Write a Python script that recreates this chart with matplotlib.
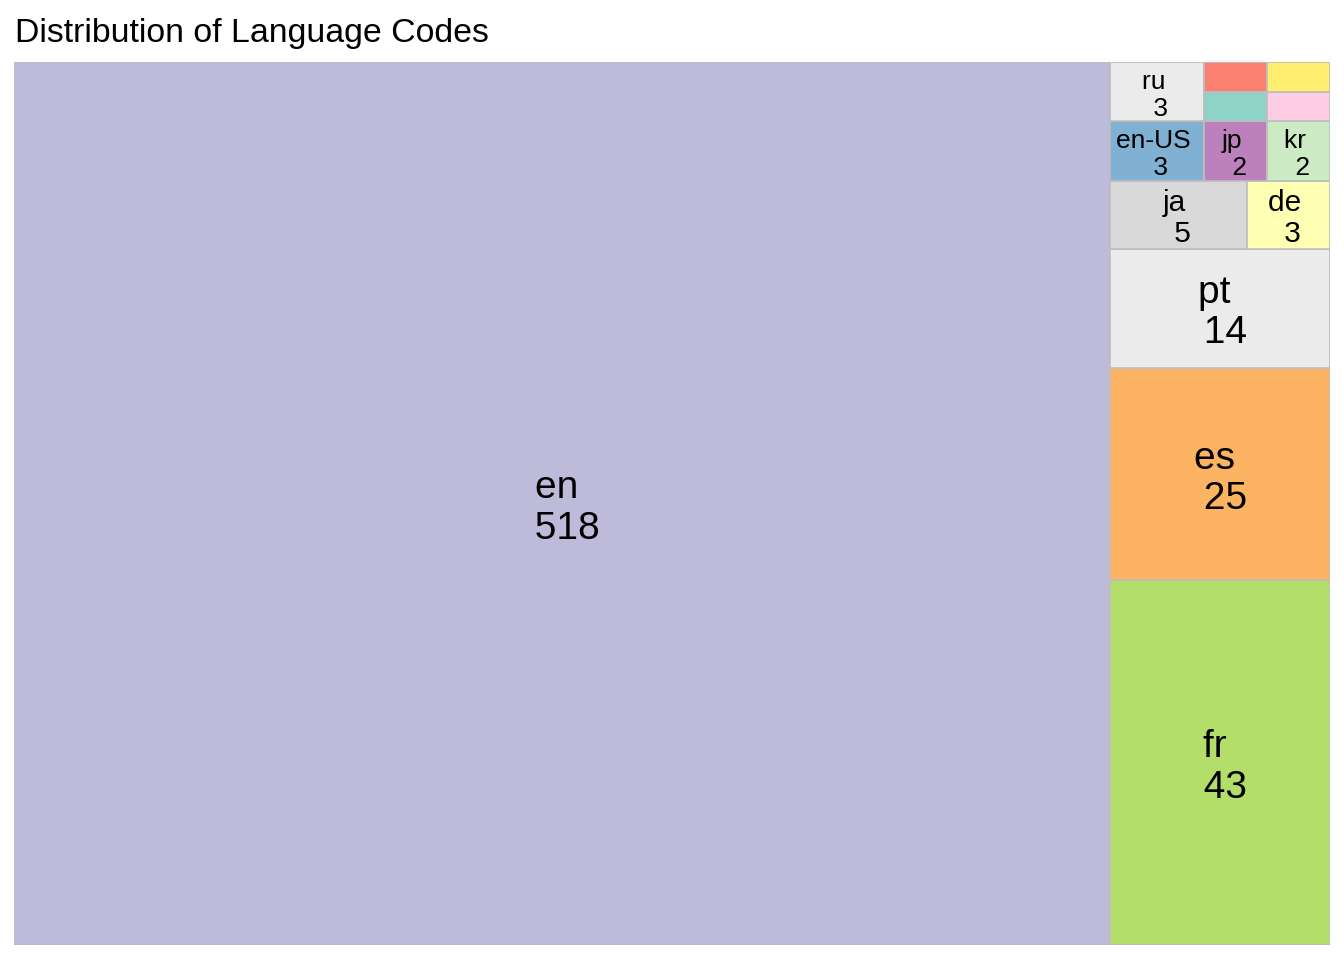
import matplotlib
matplotlib.use("Agg")
import matplotlib.pyplot as plt
from matplotlib.patches import Rectangle
from matplotlib.transforms import offset_copy

# language code counts (alphabetical order, matching fill order)
codes = ["ar", "de", "en", "en-GB", "en-US", "es", "fr", "it",
         "ja", "jp", "kr", "nl", "pt", "ru"]
counts = [1, 3, 518, 1, 3, 25, 43, 1, 5, 2, 2, 1, 14, 3]
# Set3 palette, codes past the 12th get the panel grey
palette = ["#8DD3C7", "#FFFFB3", "#BEBADA", "#FB8072", "#80B1D3", "#FDB462",
           "#B3DE69", "#FCCDE5", "#D9D9D9", "#BC80BD", "#CCEBC5", "#FFED6F"]
title = "Distribution of Language Codes"


def worst(row, side):
    thick = sum(row) / side
    return max(max(thick / (a / thick), (a / thick) / thick) for a in row)


def squarify(areas, x, y, w, h):
    """Squarified layout starting bottom-left, in unit coordinates."""
    rects = []
    i = 0
    while i < len(areas):
        vertical = w >= h           # column on the left spanning height
        side = h if vertical else w
        row = [areas[i]]
        j = i + 1
        while j < len(areas) and worst(row + [areas[j]], side) <= worst(row, side):
            row.append(areas[j])
            j += 1
        thick = sum(row) / side
        pos = y if vertical else x
        for a in row:
            ln = a / thick
            if vertical:
                rects.append((x, pos, thick, ln))
            else:
                rects.append((pos, y, ln, thick))
            pos += ln
        if vertical:
            x += thick
            w -= thick
        else:
            y += thick
            h -= thick
        i = j
    return rects


total = sum(counts)
colors = [palette[k] if k < len(palette) else "#EBEBEB" for k in range(len(codes))]
order = sorted(range(len(codes)), key=lambda k: (-counts[k], codes[k]))
areas = [counts[k] / total for k in order]
rects = squarify(areas, 0.0, 0.0, 1.0, 1.0)

fig = plt.figure(figsize=(13.44, 9.6), dpi=100)
ax = fig.add_axes([14 / 1344, 15 / 960, 1316 / 1344, 883 / 960])
ax.set_xlim(0, 1)
ax.set_ylim(0, 1)
ax.axis("off")

fig.text(15 / 1344, 1 - 42 / 960, title, fontsize=24.4, family="Liberation Sans",
         va="baseline", ha="left")

fig.canvas.draw()
renderer = fig.canvas.get_renderer()
pad = 4  # px
min_size = 12

for k, (rx, ry, rw, rh) in zip(order, rects):
    ax.add_patch(Rectangle((rx, ry), rw, rh, facecolor=colors[k],
                           edgecolor="#BEBEBE", linewidth=1.2))
    # tile size in pixels
    p0 = ax.transData.transform((rx, ry))
    p1 = ax.transData.transform((rx + rw, ry + rh))
    tw, th = p1[0] - p0[0] - 2 * pad, p1[1] - p0[1] - 2 * pad
    label = f"{codes[k]} \n {counts[k]}"
    t = ax.text(rx + rw / 2, ry + rh / 2, label, ha="center", va="center",
                multialignment="center", family="Liberation Sans",
                linespacing=1.15, fontsize=28)
    size = 28.0
    while size >= min_size:
        t.set_fontsize(size)
        bb = t.get_window_extent(renderer)
        if bb.width <= tw and bb.height <= th:
            break
        size -= 0.5
    if size < min_size:
        t.remove()
    else:
        t.set_transform(offset_copy(ax.transData, fig=fig, y=-0.18 * size,
                                    units="dots"))

fig.savefig("out.png", dpi=100, facecolor="white")
